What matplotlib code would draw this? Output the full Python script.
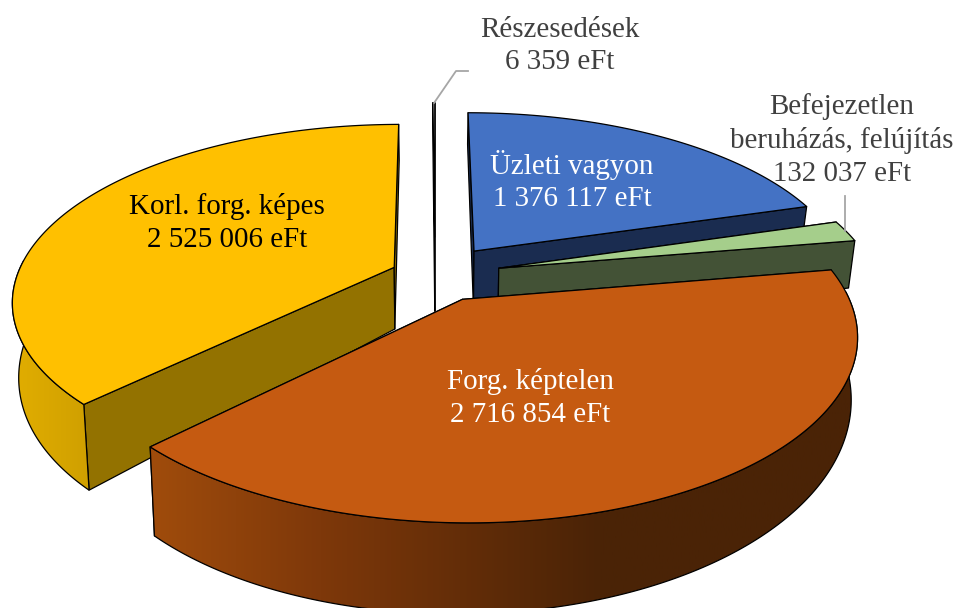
import matplotlib
matplotlib.use('Agg')
import matplotlib.pyplot as plt
import numpy as np
from matplotlib.colors import LinearSegmentedColormap
from matplotlib.patches import Polygon

plt.rcParams['font.family'] = ['Liberation Serif', 'DejaVu Serif']

# Data
nevek = ['Üzleti vagyon', 'Befejezetlen\nberuházás, felújítás', 'Forg. képtelen',
         'Korl. forg. képes', 'Részesedések']
ertekek = [1376117, 132037, 2716854, 2525006, 6359]

# Look of the slices, same order as above
szinek = ['#4472C4', '#A5CE8B', '#C55A11', '#FFC000', '#FFFFFF']
oldal_szinek = ['#1A2C50', '#435236', '#4A2306', '#937200', '#000000']
robbantas = [0.178, 0.175, 0.155, 0.118, 0.23]
fal_plusz = [0, 0, 0, 0, 18]
palast = {2: [(150, '#A04C0C'), (320, '#7E380A'), (600, '#4A2306'), (860, '#4A2306')],
          3: [(10, '#E2AE00'), (100, '#CD9E00')]}
cimke_szin = ['white', '#404040', 'white', 'black', '#404040']
cimke_xy = [(572, 181), (842, 140), (530, 398), (227, 223), (560, 46)]

# Projection of the tilted pie
CX, CY = 435, 275
A, B, K = 377, 172, 0.185


def vetit(u, v):
    w = 1 + K * v
    return CX + A * u / w, CY - B * v / w


def also(u, v, plusz=0):
    # same point on the bottom of the pie
    x, y = vetit(u, v)
    return CX + (x - CX) * 0.985, y + 62 - 26 * v - 8 * u + plusz


def poly(ax, pontok, szin, z):
    ax.add_patch(Polygon(pontok, closed=True, facecolor=szin, edgecolor='black',
                         linewidth=0.9, joinstyle='round', zorder=z))


fig = plt.figure(figsize=(9.56, 6.08), dpi=100)
ax = fig.add_axes([0, 0, 1, 1])

szogek = np.cumsum([0] + ertekek) / sum(ertekek) * 2 * np.pi
rajz_sorrend = [3, 4, 0, 1, 2]

for n, i in enumerate(rajz_sorrend):
    z = 10 + n * 10
    t1, t2 = szogek[i], szogek[i + 1]
    kozep = (t1 + t2) / 2
    du = robbantas[i] * np.sin(kozep)
    dv = robbantas[i] * np.cos(kozep)
    t = np.linspace(t1, t2, 200)
    u = du + np.sin(t)
    v = dv + np.cos(t)

    # cut faces
    for tt in (t1, t2):
        uu, vv = du + np.sin(tt), dv + np.cos(tt)
        poly(ax, [vetit(du, dv), vetit(uu, vv), also(uu, vv, fal_plusz[i]), also(du, dv, fal_plusz[i])],
             oldal_szinek[i], z)

    # outer wall, only the part that faces us
    elol = np.cos(t) < 0.05
    if elol.any():
        fent = [vetit(a, b) for a, b in zip(u[elol], v[elol])]
        lent = [also(a, b) for a, b in zip(u[elol], v[elol])]
        fal = Polygon(fent + lent[::-1], closed=True, facecolor='none',
                      edgecolor='black', linewidth=0.9, zorder=z + 2)
        ax.add_patch(fal)
        if i in palast:
            xs = [p[0] for p in palast[i]]
            poz = [(x - xs[0]) / (xs[-1] - xs[0]) for x in xs]
            cm = LinearSegmentedColormap.from_list('fal', list(zip(poz, [p[1] for p in palast[i]])))
            kep = ax.imshow(np.linspace(0, 1, 256)[None, :], cmap=cm, aspect='auto',
                            extent=[xs[0], xs[-1], 608, 0], zorder=z + 1)
            kep.set_clip_path(fal)

    # top of the slice
    poly(ax, [vetit(du, dv)] + [vetit(a, b) for a, b in zip(u, v)], szinek[i], z + 3)

# leader lines
ax.plot([434, 456, 468], [103, 71, 71], color='#A6A6A6', lw=1.3, zorder=70)
ax.plot([845, 845], [196, 231], color='#A6A6A6', lw=1.3, zorder=70)

# labels
for nev, ertek, szin, (x, y) in zip(nevek, ertekek, cimke_szin, cimke_xy):
    szam = f'{ertek:,}'.replace(',', ' ')
    ax.text(x, y, f'{nev}\n{szam} eFt', color=szin, fontsize=20.9, ha='center', va='center',
            linespacing=1.33, zorder=80)

ax.set_xlim(0, 956)
ax.set_ylim(608, 0)
ax.axis('off')

fig.savefig('out.png', dpi=100)
